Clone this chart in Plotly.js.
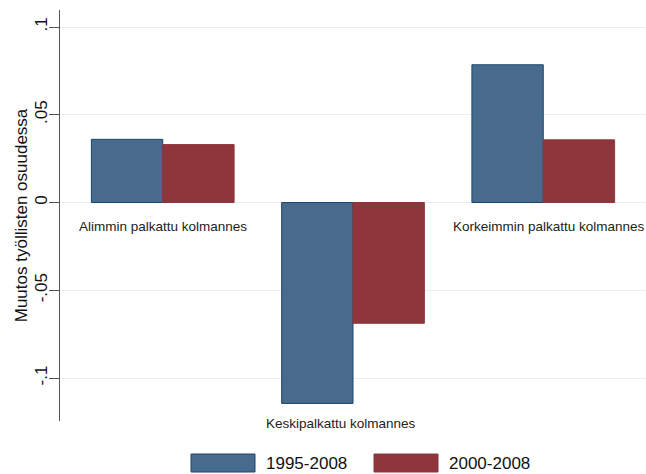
<!DOCTYPE html>
<html>
<head>
<meta charset="utf-8">
<script src="https://cdn.plot.ly/plotly-3.0.1.min.js"></script>
<style>html,body{margin:0;padding:0;background:#fff;}#chart{width:646px;height:474px;}</style>
</head>
<body>
<div id="chart"></div>
<script>
// Data
var categories = ["Alimmin palkattu kolmannes", "Keskipalkattu kolmannes", "Korkeimmin palkattu kolmannes"];
var seriesNames = ["1995-2008", "2000-2008"];
var values1995 = [0.036, -0.1145, 0.0785];
var values2000 = [0.033, -0.0688, 0.0357];
var yTickVals = [-0.1, -0.05, 0, 0.05, 0.1];
var yTickText = ["-.1", "-.05", "0", ".05", ".1"];

var fillColors = ["#486B8D", "#8F353C"];
var lineColors = ["#1A476F", "#8F353C"];
var font = "Liberation Sans, Arial, sans-serif";

var xIdx = categories.map(function (c, i) { return i; });

var traces = [values1995, values2000].map(function (vals, k) {
  return {
    type: "bar",
    x: xIdx,
    y: vals,
    name: seriesNames[k],
    marker: { color: fillColors[k], line: { color: lineColors[k], width: 1 } },
    showlegend: false,
    hoverinfo: "skip"
  };
});

// category labels: under bars (below zero for positive groups, below axis for negative)
var annotations = categories.map(function (c, i) {
  var allNeg = values1995[i] < 0 && values2000[i] < 0;
  var shifts = [0, -12, 6];
  if (allNeg) {
    return { text: c, x: i, xref: "x", y: 0, yref: "paper", yanchor: "middle", yshift: -2,
      xshift: shifts[i], showarrow: false, font: { family: font, size: 13.5, color: "#222" } };
  }
  return { text: c, x: i, xref: "x", y: 0, yref: "y", yanchor: "top", yshift: -14,
    xshift: shifts[i], showarrow: false, font: { family: font, size: 13.5, color: "#222" } };
});

// custom legend at bottom
var shapes = [];
var legX = [191, 374];
seriesNames.forEach(function (n, k) {
  shapes.push({ type: "rect", xref: "paper", yref: "paper",
    x0: (legX[k] - 60) / 586, x1: (legX[k] + 64 - 60) / 586,
    y0: -33 / 411, y1: -51 / 411,
    fillcolor: fillColors[k], line: { color: lineColors[k], width: 1 } });
  annotations.push({ text: n, xref: "paper", yref: "paper",
    x: (legX[k] + 73 - 60) / 586, y: -42 / 411, xanchor: "left", yanchor: "middle",
    showarrow: false, font: { family: font, size: 17, color: "#111" } });
});

var layout = {
  width: 646, height: 474,
  margin: { l: 60, r: 0, t: 10, b: 53, pad: 0 },
  paper_bgcolor: "#ffffff", plot_bgcolor: "#ffffff",
  font: { family: font, color: "#111" },
  barmode: "group", bargap: 0.25, bargroupgap: 0,
  xaxis: { range: [-0.54, 2.54], showticklabels: false, showgrid: false, zeroline: false,
    showline: false, ticks: "" },
  yaxis: {
    range: [-0.1245, 0.1097],
    tickvals: yTickVals, ticktext: yTickText, tickangle: -90,
    ticks: "outside", ticklen: 10, tickcolor: "#555", tickwidth: 1,
    ticklabelstandoff: -5,
    showline: true, linecolor: "#555", linewidth: 1,
    showgrid: true, gridcolor: "#e6eef1", gridwidth: 1,
    zeroline: false,
    tickfont: { family: font, size: 17, color: "#111" },
    title: { text: "Muutos työllisten osuudessa", font: { family: font, size: 17, color: "#111" }, standoff: 0 }
  },
  annotations: annotations,
  shapes: shapes
};

Plotly.newPlot("chart", traces, layout, { displayModeBar: false, staticPlot: true });
</script>
</body>
</html>
